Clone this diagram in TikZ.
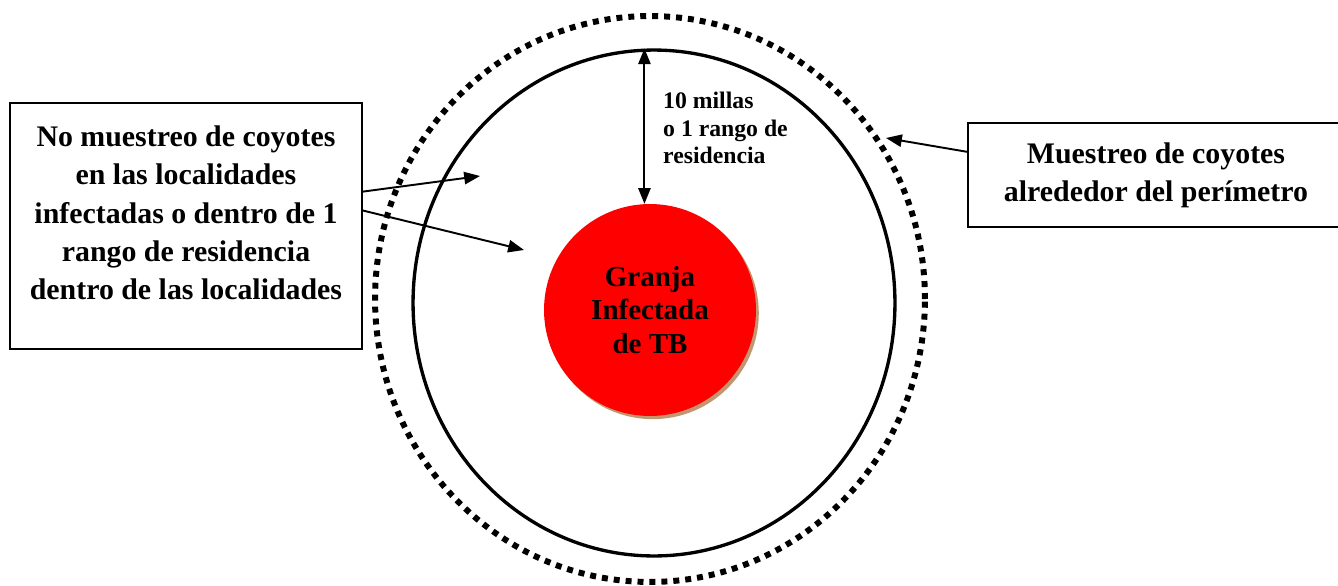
\documentclass[tikz,border=0pt]{standalone}
\usepackage{fontspec}
\setmainfont{Liberation Serif}
\usetikzlibrary{shapes.geometric,arrows.meta,shadows}
\definecolor{rojogranja}{RGB}{255,0,0}
\definecolor{sombra}{RGB}{196,150,112}
\tikzset{
  caja/.style={draw, line width=1.1pt, inner sep=0pt},
  texto/.style={align=center, font=\bfseries\fontsize{17}{21.8}\selectfont},
  punta/.style={Triangle[length=9pt,width=7pt]},
  flecha/.style={line width=1.1pt, -{Triangle[length=9pt,width=7pt]}},
}

\begin{document}
\begin{tikzpicture}[x=0.02cm, y=-0.02cm]

  \useasboundingbox (0,0) rectangle (1338,585);

  \node[ellipse, draw, line width=3.4pt, dash pattern=on 3.4pt off 3.4pt,
        minimum width=11cm, minimum height=11.32cm] (perimetro) at (650,299) {};
  \node[ellipse, draw, line width=1.9pt,
        minimum width=9.64cm, minimum height=10.12cm] (anillo) at (654,303) {};
  \node[circle, fill=rojogranja, minimum size=4.24cm, inner sep=0pt,
        drop shadow={shadow xshift=1.6pt, shadow yshift=-1.8pt, fill=sombra, opacity=1},
        align=center, font=\bfseries\fontsize{16.5}{19.3}\selectfont] (granja) at (650,310)
        {Granja\\Infectada\\de TB};

  \draw[line width=1.1pt, {Triangle[length=9pt,width=7pt]}-{Triangle[length=9pt,width=7pt]}]
    (granja.93) -- (granja.93 |- anillo.north);
  \node[anchor=west, align=left, font=\bfseries\fontsize{13.5}{15.6}\selectfont] (millas) at (657,128)
    {10 millas\\o 1 rango de\\residencia};

  \node[caja, minimum width=7.04cm, minimum height=4.92cm] (cajaizq) at (186,226) {};
  \node[texto] (textoizq) at (186,213)
    {No muestreo de coyotes\\en las localidades\\infectadas o dentro de 1\\rango de residencia\\dentro de las localidades};
  \node[caja, texto, minimum width=7.52cm, minimum height=2.08cm] (cajader) at (1156,175)
    {Muestreo de coyotes\\alrededor del perímetro};

  \coordinate (puntaa) at (480,176);
  \coordinate (puntab) at (524,250);
  \coordinate (puntac) at (886,138);
  \draw[flecha] (cajaizq.11.6) -- (puntaa);
  \draw[flecha] (cajaizq.5.2) -- (puntab);
  \draw[flecha] (cajader.173) -- (puntac);

\end{tikzpicture}
\end{document}
